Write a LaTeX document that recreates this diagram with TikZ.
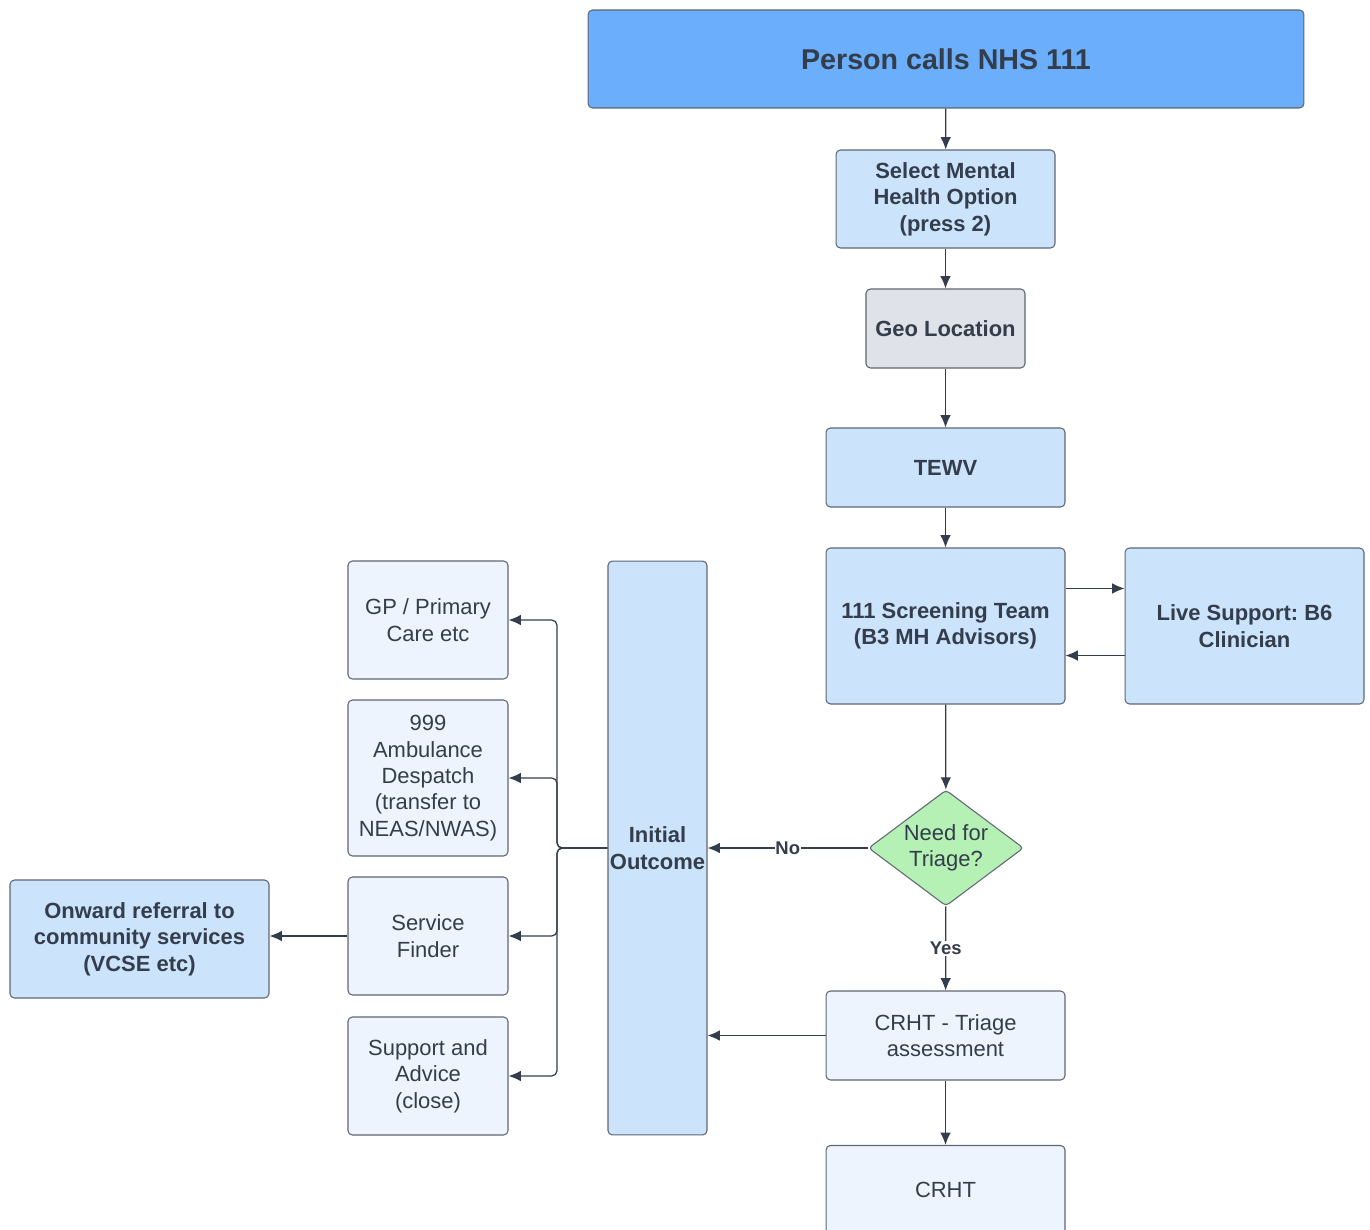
\documentclass[tikz,border=0pt]{standalone}
\usepackage{fontspec}
\setmainfont{Liberation Sans}
\usepackage{xcolor}
\definecolor{callblue}{HTML}{6AAEFC}
\definecolor{stepblue}{HTML}{CCE3FC}
\definecolor{paleblue}{HTML}{EDF4FD}
\definecolor{geogray}{HTML}{DFE2E8}
\definecolor{triagegreen}{HTML}{B5F0B5}
\definecolor{inkdark}{HTML}{333D4B}
\definecolor{edgegray}{HTML}{5F6673}
\usepackage{tikz}
\usetikzlibrary{
  positioning,
  arrows.meta,
  shapes.geometric
}
\frenchspacing

\begin{document}
\begin{tikzpicture}[
  x=0.02cm, y=-0.02cm,
  every node/.style={font=\fontsize{12.5}{15}\selectfont, text=inkdark, align=center},
  box/.style={draw=edgegray, line width=0.6pt, rounded corners=2.5pt, inner sep=2pt},
  boldbox/.style={box, fill=stepblue, font=\fontsize{12.5}{15}\selectfont\bfseries},
  plainbox/.style={box, fill=paleblue},
  flow/.style={draw=inkdark, line width=0.7pt, -{Latex[length=7pt,width=6pt]}},
  tag/.style={font=\fontsize{10.5}{12}\selectfont\bfseries, fill=white, inner sep=0.5pt}
]
\useasboundingbox (0,0) rectangle (1370,1230);
\clip (0,0) rectangle (1370,1230);

% Main column
\node[box, fill=callblue, minimum width=14.32cm, minimum height=1.96cm,
  font=\fontsize{16.3}{19}\selectfont\bfseries] (call) at (946,59) {Person calls NHS 111};
\node[boldbox, minimum width=4.38cm, minimum height=1.96cm] (mh) at (945.5,199)
  {Select Mental\\Health Option\\(press 2)};
\node[boldbox, fill=geogray, minimum width=3.18cm, minimum height=1.58cm] (geo) at (945.5,328.5)
  {Geo Location};
\node[boldbox, minimum width=4.78cm, minimum height=1.58cm] (tewv) at (945.5,467.5) {TEWV};
\node[boldbox, minimum width=4.78cm, minimum height=3.12cm] (screen) at (945.5,626)
  {111 Screening Team\\(B3 MH Advisors)};
\node[boldbox, minimum width=4.78cm, minimum height=3.12cm] (live) at (1244.5,626)
  {Live Support: B6\\Clinician};

% Decision
\node[draw=edgegray, line width=0.6pt, fill=triagegreen, diamond, aspect=1.34, inner sep=0pt,
  minimum width=3.1cm, minimum height=2.32cm, rounded corners=2pt] (need) at (946,848)
  {Need for\\Triage?};
\node[plainbox, minimum width=4.78cm, minimum height=1.78cm] (triage) at (945.5,1035.5)
  {CRHT - Triage\\assessment};
\node[plainbox, minimum width=4.78cm, minimum height=1.78cm] (crht) at (945.5,1190)
  {CRHT};

% Outcomes
\node[boldbox, minimum width=1.98cm, minimum height=11.48cm, inner sep=0pt] (outcome) at (657.5,848)
  {Initial\\Outcome};
\node[plainbox, minimum width=3.2cm, minimum height=2.36cm] (gp) at (428,620)
  {GP / Primary\\Care etc};
\node[plainbox, minimum width=3.2cm, minimum height=3.12cm] (amb) at (428,778)
  {999\\Ambulance\\Despatch\\(transfer to\\NEAS/NWAS)};
\node[plainbox, minimum width=3.2cm, minimum height=2.36cm] (finder) at (428,936)
  {Service\\Finder};
\node[plainbox, minimum width=3.2cm, minimum height=2.36cm] (advice) at (428,1076)
  {Support and\\Advice\\(close)};
\node[boldbox, minimum width=5.18cm, minimum height=2.36cm] (onward) at (139.5,939)
  {Onward referral to\\community services\\(VCSE etc)};

\coordinate (split) at (557,848);

% Connectors
\draw[flow] (call) -- (mh);
\draw[flow] (mh) -- (geo);
\draw[flow] (geo) -- (tewv);
\draw[flow] (tewv) -- (screen);
\draw[flow] ([yshift=-0.82cm]screen.north east) -- ([yshift=-0.82cm]live.north west);
\draw[flow] ([yshift=0.98cm]live.south west) -- ([yshift=0.98cm]screen.south east);
\draw[flow] (screen) -- (need);
\draw[flow] (need) -- node[tag] {No} (outcome.east |- need);
\draw[flow] (need) -- node[tag] {Yes} (triage);
\draw[flow] (triage) -- (outcome.east |- triage);
\draw[flow] (triage) -- (crht);
\foreach \dest in {gp, amb, finder, advice}
  \draw[flow, rounded corners=3pt] (outcome.west |- split) -- (split) |- (\dest.east);
\draw[flow] (finder.west) -- (onward.east |- finder.west);

\end{tikzpicture}
\end{document}
